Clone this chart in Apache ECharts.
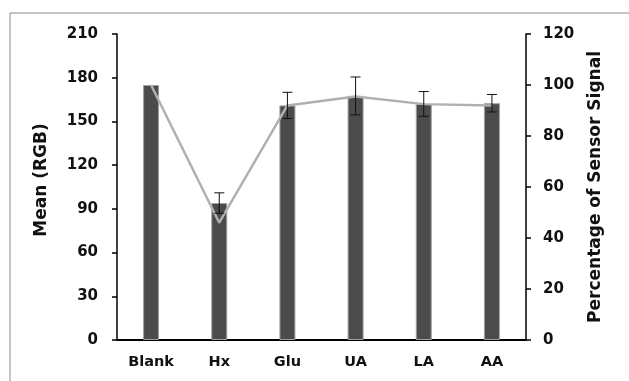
<!DOCTYPE html>
<html>
<head>
<meta charset="utf-8">
<script src="https://cdn.jsdelivr.net/npm/echarts@6/dist/echarts.min.js"></script>
<style>
  html, body { margin: 0; padding: 0; background: #fff; }
  #chart { width: 629px; height: 381px; }
</style>
</head>
<body>
<div id="chart"></div>
<script>
// Samples tested against the sensor
const categories = ['Blank', 'Hx', 'Glu', 'UA', 'LA', 'AA'];
// Mean RGB intensity per sample (left axis)
const meanRGB = [175, 94, 161, 167.5, 162, 162.5];
// Standard deviation of the mean RGB
const meanErr = [0, 7, 9, 13, 8.5, 6];
// Sensor signal relative to the blank, in percent (right axis)
const percentSignal = [100, 46, 92, 95.5, 92.5, 92];
// Axis tick values
const leftTicks = [0, 30, 60, 90, 120, 150, 180, 210];
const rightTicks = [0, 20, 40, 60, 80, 100, 120];

const FONT = 'DejaVu Sans';
const chart = echarts.init(document.getElementById('chart'));

const errorData = categories.map((c, i) => [i, meanRGB[i] - meanErr[i], meanRGB[i] + meanErr[i]]);

chart.setOption({
  animation: false,
  backgroundColor: '#ffffff',
  graphic: [{
    type: 'rect',
    shape: { x: 10, y: 13, width: 700, height: 450 },
    style: { fill: 'none', stroke: '#8a8a8a', lineWidth: 1 },
    silent: true
  }],
  grid: { left: 117, right: 103, top: 34, bottom: 41, containLabel: false },
  xAxis: {
    type: 'category',
    data: categories,
    axisLine: { lineStyle: { color: '#000', width: 2 } },
    axisTick: { show: false },
    axisLabel: { color: '#111', fontFamily: FONT, fontWeight: 'bold', fontSize: 14.5, margin: 15 }
  },
  yAxis: [{
    type: 'value',
    min: leftTicks[0],
    max: leftTicks[leftTicks.length - 1],
    interval: leftTicks[1] - leftTicks[0],
    name: 'Mean (RGB)',
    nameLocation: 'middle',
    nameGap: 67,
    nameTextStyle: { color: '#111', fontFamily: FONT, fontWeight: 'bold', fontSize: 17, padding: [0, 0, 0, 14] },
    axisLine: { show: true, lineStyle: { color: '#000', width: 1.5 } },
    axisTick: { show: true, length: 5, lineStyle: { color: '#000', width: 1.5 } },
    axisLabel: { color: '#111', fontFamily: FONT, fontWeight: 'bold', fontSize: 15, margin: 19 },
    splitLine: { show: false }
  }, {
    type: 'value',
    position: 'right',
    min: rightTicks[0],
    max: rightTicks[rightTicks.length - 1],
    interval: rightTicks[1] - rightTicks[0],
    name: 'Percentage of Sensor Signal',
    nameLocation: 'middle',
    nameGap: 61,
    nameTextStyle: { color: '#111', fontFamily: FONT, fontWeight: 'bold', fontSize: 17 },
    axisLine: { show: true, lineStyle: { color: '#000', width: 1.5 } },
    axisTick: { show: true, length: 5, lineStyle: { color: '#000', width: 1.5 } },
    axisLabel: { color: '#111', fontFamily: FONT, fontWeight: 'bold', fontSize: 15, margin: 17 },
    splitLine: { show: false }
  }],
  series: [{
    type: 'bar',
    yAxisIndex: 0,
    data: meanRGB,
    barWidth: 16,
    z: 2,
    itemStyle: { color: '#4b4b4b', borderColor: '#a0a0a0', borderWidth: 1 }
  }, {
    type: 'line',
    yAxisIndex: 1,
    data: percentSignal,
    showSymbol: false,
    symbol: 'none',
    z: 3,
    lineStyle: { color: '#b0b0b0', width: 2.5 }
  }, {
    type: 'custom',
    yAxisIndex: 0,
    data: errorData,
    z: 4,
    renderItem: function (params, api) {
      const lo = api.coord([api.value(0), api.value(1)]);
      const hi = api.coord([api.value(0), api.value(2)]);
      if (Math.abs(hi[1] - lo[1]) < 0.5) return null;
      const half = 5;
      const style = { stroke: '#111', lineWidth: 1 };
      return {
        type: 'group',
        children: [
          { type: 'line', shape: { x1: lo[0], y1: lo[1], x2: hi[0], y2: hi[1] }, style: style },
          { type: 'line', shape: { x1: hi[0] - half, y1: hi[1], x2: hi[0] + half, y2: hi[1] }, style: style },
          { type: 'line', shape: { x1: lo[0] - half, y1: lo[1], x2: lo[0] + half, y2: lo[1] }, style: style }
        ]
      };
    }
  }]
});
</script>
</body>
</html>
